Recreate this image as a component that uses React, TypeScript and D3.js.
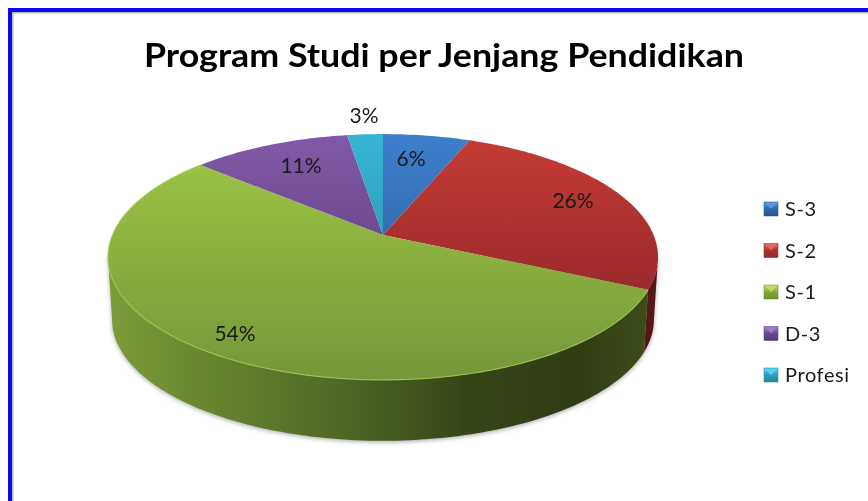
import React from "react";
import * as d3 from "d3";

const title = "Program Studi per Jenjang Pendidikan";
const categories = ["S-3", "S-2", "S-1", "D-3", "Profesi"];
const shares = [6.1, 25.9, 54.4, 11.1, 2.5];
const percentLabels = ["6%", "26%", "54%", "11%", "3%"];

const topColors = [
  ["#3d80cc", "#2c5f9e"],
  ["#c63c33", "#98292b"],
  ["#9fc846", "#76963a"],
  ["#8259a8", "#5f427f"],
  ["#36b4d6", "#2b93ad"],
];
const swatchColors = ["#2f66a8", "#a93232", "#85a83a", "#66488f", "#2f9dbb"];
const swatchLight = ["#5b9be0", "#ea6a66", "#c3e060", "#a07fd0", "#58d6f0"];
const labelPos = [
  [411, 159],
  [573, 201],
  [235, 334],
  [301, 166],
  [364, 116],
];

const W = 868;
const H = 501;
const CX = 383;
const CY = 235;
const R = 270.6;
const S = 119;
const K = 0.179;
const DEPTH = 63;
const BOTTOM_SCALE = 0.985;
// rim angles where the disc is widest: the wall is only visible between them
const WALL_FROM = Math.acos(-K);
const WALL_TO = Math.PI * 2 - WALL_FROM;

function project(theta: number, r = 1, scale = 1, dy = 0): [number, number] {
  const u = r * Math.sin(theta);
  const v = -r * Math.cos(theta);
  const den = 1 - K * v;
  return [CX + (scale * R * u) / den, CY + dy + (scale * S * v) / den];
}

function arcSamples(a0: number, a1: number): number[] {
  const n = Math.max(2, Math.ceil((a1 - a0) / 0.02));
  return d3.range(n + 1).map((i) => a0 + ((a1 - a0) * i) / n);
}

const line = d3.line<[number, number]>();
const arcs = d3.pie<number>().sort(null).value((d) => d)(shares);

const legendY = d3.scalePoint<string>().domain(categories).range([209, 375]);

export default function App() {
  return (
    <svg
      width={W}
      height={H}
      viewBox={`0 0 ${W} ${H}`}
      style={{ position: "fixed", left: 0, top: 0, display: "block", background: "#fff" }}
    >
      <defs>
        <filter id="soft" x="-10%" y="-10%" width="120%" height="120%">
          <feGaussianBlur stdDeviation="2.2" />
        </filter>
        <filter id="txt" x="-5%" y="-20%" width="110%" height="140%">
          <feGaussianBlur stdDeviation="0.35" />
        </filter>
        {topColors.map((c, i) => (
          <linearGradient key={i} id={`top${i}`} gradientUnits="userSpaceOnUse" x1="0" x2="0" y1={134} y2={i === 2 ? 380 : 300}>
            <stop offset="0" stopColor={c[0]} />
            <stop offset="1" stopColor={c[1]} />
          </linearGradient>
        ))}
        <linearGradient id="sideGreen" gradientUnits="userSpaceOnUse" x1="108" x2="658" y1="0" y2="0">
          <stop offset="0" stopColor="#7d9c39" />
          <stop offset="0.2" stopColor="#66832e" />
          <stop offset="0.45" stopColor="#4d6424" />
          <stop offset="0.65" stopColor="#364516" />
          <stop offset="0.85" stopColor="#303c13" />
          <stop offset="1" stopColor="#3e4e1a" />
        </linearGradient>
        {swatchColors.map((c, i) => (
          <linearGradient key={i} id={`sw${i}`} x1="0" x2="0" y1="0" y2="1">
            <stop offset="0" stopColor={swatchLight[i]} />
            <stop offset="0.5" stopColor={c} />
            <stop offset="1" stopColor={d3.color(c)!.darker(0.5).formatHex()} />
          </linearGradient>
        ))}
      </defs>

      <rect x={8} y={8} width={W - 8} height={H - 8} fill="#fff" />
      <rect x={8} y={8} width={W - 8} height={4} fill="#0a0aee" />
      <rect x={8} y={8} width={4} height={H - 8} fill="#0a0aee" />
      <rect x={12} y={12} width={W - 12} height={1.5} fill="#b9b9b9" />
      <rect x={12} y={12} width={1.5} height={H - 12} fill="#b9b9b9" />

      <text
        x={444}
        y={67}
        textAnchor="middle"
        fontFamily="Lato, 'Open Sans', sans-serif"
        fontWeight={700}
        fontSize={33}
        fill="#000"
        textLength={600}
        lengthAdjust="spacingAndGlyphs"
        filter="url(#txt)"
      >
        {title}
      </text>

      {/* soft shadow under the disc */}
      <path
        d={
          line([
            ...arcSamples(WALL_FROM, WALL_TO).map((a) => project(a, 1, BOTTOM_SCALE, DEPTH + 1.5)),
            project(WALL_TO),
            project(WALL_FROM),
          ])! + "Z"
        }
        fill="#777"
        opacity={0.6}
        filter="url(#soft)"
      />

      {/* side wall */}
      {arcs.map((d, i) => {
        const a0 = Math.max(d.startAngle, WALL_FROM);
        const a1 = Math.min(d.endAngle, WALL_TO);
        if (a1 <= a0) return null;
        const samples = arcSamples(a0, a1);
        const upper = samples.map((a) => project(a));
        const lower = samples.map((a) => project(a, 1, BOTTOM_SCALE, DEPTH)).reverse();
        const fill = i === 2 ? "url(#sideGreen)" : d3.color(topColors[i][1])!.darker(1.6).formatHex();
        return <path key={i} d={line([...upper, ...lower])! + "Z"} fill={fill} />;
      })}

      {/* top faces */}
      {arcs.map((d, i) => {
        const rim = arcSamples(d.startAngle, d.endAngle).map((a) => project(a));
        return (
          <path
            key={i}
            d={line([project(0, 0), ...rim])! + "Z"}
            fill={`url(#top${i})`}
          />
        );
      })}

      {/* lit rim on the front */}
      <path
        d={line(arcSamples(arcs[2].startAngle, arcs[2].endAngle).map((a) => project(a)))!}
        fill="none"
        stroke="#a6cc52"
        strokeWidth={1.2}
        opacity={0.8}
      />

      {percentLabels.map((t, i) => (
        <text
          key={t}
          x={labelPos[i][0]}
          y={labelPos[i][1]}
          dy="0.35em"
          textAnchor="middle"
          fontFamily="Lato, 'Open Sans', sans-serif"
          fontSize={21}
          fill="#1a1a1a"
          filter="url(#txt)"
        >
          {t}
        </text>
      ))}

      {categories.map((c, i) => {
        const y = legendY(c)!;
        const x0 = 764;
        const sz = 14;
        return (
          <g key={c}>
            <rect x={x0} y={y - sz / 2} width={sz} height={sz} fill={`url(#sw${i})`} stroke={d3.color(swatchColors[i])!.darker(0.6).formatHex()} strokeWidth={0.5} />
            <path
              d={line([
                [x0 + 1, y - sz / 2 + 1],
                [x0 + sz - 1, y - sz / 2 + 1],
                [x0 + sz / 2, y],
              ])! + "Z"}
              fill={swatchLight[i]}
              opacity={0.85}
            />
            <text
              x={785}
              y={y}
              dy="0.35em"
              fontFamily="Lato, 'Open Sans', sans-serif"
              fontSize={20}
              fill="#1a1a1a"
              filter="url(#txt)"
              letterSpacing={0.6}
            >
              {c}
            </text>
          </g>
        );
      })}
    </svg>
  );
}
